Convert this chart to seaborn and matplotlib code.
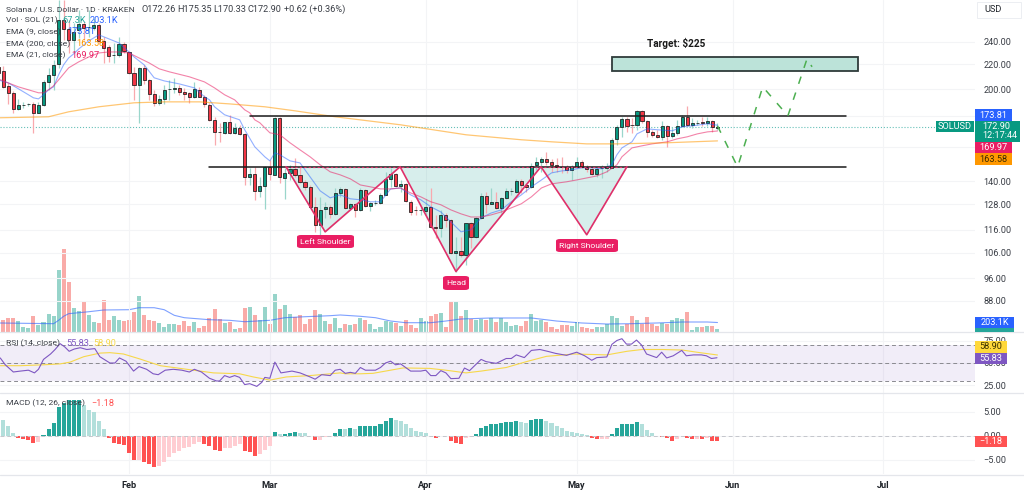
import numpy as np
import pandas as pd
import seaborn as sns
import matplotlib.pyplot as plt
from matplotlib.patches import FancyBboxPatch, Rectangle
from matplotlib.ticker import FixedLocator, NullLocator, FixedFormatter

# daily candles, day numbers are counted from Feb 1
days = list(range(-26, 118))
opens = [218, 214.6, 202.5, 197.1, 185.2, 187.8, 188.5, 188.8, 182.4, 188.1,
         205.6, 211.3, 220.5, 261.4, 252.5, 241.9, 251.5, 257.4, 254, 253.5,
         256.5, 241, 235.5, 227.9, 228.3, 238.2, 230.9, 213, 203.3, 217.1,
         207.2, 196.3, 189.6, 192.5, 199.8, 200.2, 200.9, 197.9, 197.1, 194.1,
         199.4, 194.1, 188.1, 177.5, 169.4, 168.8, 176.1, 168.8, 172.1, 168.1,
         142.3, 144, 134.8, 137.4, 147.9, 143.4, 178.9, 141.7, 144.5, 146.8,
         143.4, 139.6, 136.9, 126.7, 118.1, 125.7, 126.7, 123.3, 133.7, 135.8,
         126.2, 128.2, 125.2, 135.3, 127.2, 128.7, 128.7, 132.7, 141.2, 144,
         137.4, 138.5, 129.2, 125.2, 125, 124.7, 126.7, 117.2, 116.8, 122.8,
         120.4, 106.1, 106.9, 105.3, 119, 112.8, 121.4, 132.2, 128.2, 129.2,
         126.2, 131.2, 134.5, 134.2, 140.1, 137.9, 136.9, 149.1, 150.8, 152.6,
         150.8, 149.1, 147.9, 147.9, 146.2, 147.9, 150.8, 147.9, 146.8, 144,
         147.1, 147.4, 147.4, 164.9, 172.8, 178.2, 174.1, 174.1, 183.8, 176.8,
         169.4, 167.5, 166.2, 173.4, 166.8, 168.8, 173.4, 179.6, 174.1, 175.1,
         176.1, 175.5, 176.8, 172.26]
highs = [218.8, 218.8, 204.8, 198.6, 192.5, 190.3, 189.6, 190.3, 190.3, 207.2,
         217.1, 223.9, 282.4, 282.4, 261.4, 258.4, 271.7, 259.4, 271.7, 263.4,
         258.4, 244.8, 237.3, 239.1, 244.8, 240, 231.8, 218, 218, 219.7,
         207.6, 199.4, 195.6, 203.3, 207.2, 208.9, 203.3, 200.9, 197.9, 205.6,
         201.7, 195.6, 189.6, 179.6, 175.5, 176.1, 181, 175.5, 174.1, 168.8,
         147.4, 147.9, 142.3, 148.5, 152, 179.6, 179.6, 147.4, 149.1, 153.2,
         147.9, 140.6, 137.9, 131.7, 131.7, 129.2, 127.7, 136.3, 136.9, 136.3,
         128.7, 128.7, 136.3, 135.8, 129.2, 130.2, 133.7, 145.1, 147.4, 144.5,
         140.6, 139, 130.2, 127.2, 126.7, 130.7, 136.3, 122.8, 125.2, 123.7,
         120.9, 112.8, 112.8, 119, 119.5, 121.8, 133.7, 134.2, 136.3, 134.2,
         131.7, 136.3, 136.3, 141.2, 141.2, 138.5, 150.2, 153.8, 153.8, 156.8,
         152.6, 153.2, 153.8, 149.1, 149.1, 153.8, 152, 149.1, 148.5, 147.9,
         149.1, 150.2, 165.5, 174.1, 179.6, 179.6, 178.9, 184.5, 184.5, 177.5,
         170.8, 170.8, 176.8, 174.1, 172.8, 177.5, 181, 187.4, 178.9, 177.5,
         179.6, 179.6, 177.5, 175.35]
lows = [212.1, 200.9, 188.8, 182.4, 184.5, 186, 187.4, 168.8, 182, 187.4,
        199.4, 199.4, 217.1, 241.9, 230, 230, 243.9, 241.9, 244.8, 251.5,
        239.1, 221.3, 222.2, 221.3, 226.5, 230, 212.1, 191.8, 175.5, 204,
        191.8, 187.4, 188.1, 188.8, 191.8, 197.1, 195.6, 191.8, 189.6, 193.3,
        193.7, 186.7, 176.8, 161.1, 163, 168.1, 168.1, 168.1, 167.5, 137.9,
        137.9, 130.2, 131.7, 125.7, 140.6, 143.4, 139, 130.7, 140.6, 142.3,
        139, 135.3, 126.2, 115, 112.8, 121.4, 121.4, 122.8, 131.7, 125.7,
        125.2, 121.8, 124.7, 126.7, 124.7, 127.7, 128.2, 132.7, 136.9, 136.9,
        134.2, 129.2, 122.8, 122.8, 122.8, 122.8, 116.8, 112.4, 112.8, 117.2,
        105.7, 98.6, 104.5, 101.3, 108.1, 112.4, 120.9, 123.7, 128.2, 125.7,
        123.7, 130.7, 132.7, 133.7, 133.7, 134.2, 136.3, 146.2, 145.1, 149.1,
        145.1, 145.1, 144.5, 144.5, 140.6, 147.4, 147.4, 145.1, 143.4, 142.3,
        141.7, 145.1, 147.4, 161.1, 166.2, 169.4, 168.8, 170.8, 175.5, 166.2,
        166.2, 165.5, 164.3, 159.9, 165.5, 167.5, 172.8, 173.4, 172.1, 174.1,
        173.4, 173.4, 169.4, 170.33]
closes = [213, 201.7, 197.1, 185.2, 188.1, 188.1, 188.8, 182.4, 188.1, 205.6,
          211.3, 219.7, 261.4, 252.5, 241.9, 249.6, 257.4, 253.5, 254.5, 256.5,
          241, 234.5, 227.4, 228.3, 238.2, 231.8, 213, 203.3, 217.1, 207.2,
          196.3, 189.6, 192.5, 199.4, 200.2, 200.5, 197.9, 196.3, 194.1, 200.2,
          194.1, 188.8, 177.5, 169.4, 169.1, 176.1, 168.8, 172.1, 168.1, 142.3,
          144, 134.8, 137.4, 147.9, 144, 178.9, 142.3, 144.5, 146.8, 143.4,
          139.6, 136.9, 126.7, 118.1, 125.2, 126.7, 123.3, 133.7, 135.8, 126.2,
          128.2, 125.2, 135.3, 127.2, 128.7, 128.8, 132.7, 141.2, 144, 137.4,
          138.5, 129.7, 124.2, 125, 125.2, 126.7, 117.2, 116.8, 122.8, 120.4,
          106.1, 106.9, 105.3, 119, 112.8, 121.4, 132.2, 128.2, 129.2, 126.2,
          131.2, 134.8, 134.8, 140.1, 137.9, 136.9, 148.5, 150.8, 152.6, 150.8,
          149.1, 147.9, 147.6, 146.2, 147.9, 150.8, 147.9, 146.8, 144, 146.8,
          147.4, 147.6, 164.3, 172.8, 178.2, 173.4, 173.8, 183.8, 176.8, 169.4,
          167.5, 166.2, 173.4, 166.8, 168.8, 173.4, 179.6, 174.1, 175.5, 175.5,
          175.5, 176.8, 172.8, 172.9]

# volume in thousands
volume = [171, 250, 300, 293, 229, 107, 92, 336, 143, 220, 392, 349, 1320, 1770, 1076, 520,
          449, 648, 357, 220, 193, 691, 263, 336, 250, 229, 250, 428, 777, 357, 250, 235,
          199, 113, 165, 171, 156, 229, 122, 208, 92, 122, 306, 486, 285, 193, 214, 64,
          92, 507, 541, 370, 250, 529, 165, 820, 486, 578, 379, 321, 370, 165, 285, 464,
          379, 242, 165, 300, 92,
          178, 143, 178, 293, 250, 165, 71, 101, 242, 214, 193, 122, 263, 150, 92, 293,
          242, 336, 392, 400, 107, 657, 670, 342, 464, 272, 250, 278, 250, 306, 208, 306,
          214, 122, 156, 128, 229, 385, 235, 250, 208, 101, 71, 156, 156, 135, 220, 113,
          86, 58, 113, 107, 171, 336, 300, 135, 165, 349, 250, 178, 315, 171, 122, 199,
          178, 250, 306, 278, 422, 49, 107, 107, 122, 135, 67.3]
vol_ma_days = [-26, -15, -14, -13, -12, -8, -5, 0, 2, 5, 7, 9, 11, 16, 20, 23, 28, 31, 35, 40, 42,
               46, 49, 52, 55, 60, 63, 66, 72, 80, 85, 90, 95, 100, 105, 110, 115, 117]
vol_ma = [193, 178, 250, 336, 392, 434, 471, 477, 520, 520, 477, 357, 306, 263, 250, 220, 250, 306,
          327, 349, 364, 336, 306, 235, 199, 199, 235, 278, 300, 300, 235, 193, 171, 178, 193, 214, 214, 203.1]

ema9_days = [-26, -24, -22, -20, -19, -18, -17, -16, -15, -14, -13, -12, -11, -10, -8, -6, -5, -4, -2, 0, 1, 3, 5, 7,
             10, 13, 15, 16, 17, 19, 22, 23, 25, 27, 28, 29, 30, 32, 34, 36, 38, 40, 42, 44, 46, 48, 50, 52, 54, 56,
             58, 60, 62, 64, 66, 68, 70, 72, 74, 76, 78, 80, 82, 84, 86, 88, 90, 92, 94, 96, 97, 98, 100, 101, 103,
             105, 108, 110, 112, 115, 117]
ema9 = [207.2, 204.8, 200.2, 195.6, 193.3, 192.5, 195.6, 199.4, 201.7, 211.3, 219.7, 225.6, 229.2, 233.6, 241, 246.7,
        244.8, 242.9, 239.1, 230.9, 226.5, 219.7, 208.9, 206.4, 204, 200.9, 194.1, 191.8, 186.7, 181, 177.5, 170.8,
        159.9, 153.8, 151.4, 156.2, 155, 151.4, 150.2, 142.3, 134.8, 131.2, 132.7, 130.7, 130.2, 129.2, 129.2, 135.8,
        136.3, 132.7, 130.2, 126.7, 124.2, 119.5, 115, 115.9, 121.4, 123.7, 125.2, 129.2, 132.7, 136.9, 140.6, 144.5,
        145.6, 146.2, 147.4, 147.4, 146.8, 149.1, 155, 159.2, 163, 168.1, 171.4, 170.8, 170.1, 172.8, 173.4, 174.8, 173.81]
ema21_days = [-26, -24, -22, -20, -18, -17, -16, -15, -14, -12, -10, -8, -6, -4, -2, 0, 2, 4, 6, 8, 12, 15, 17, 19, 21,
              23, 24, 25, 26, 28, 30, 32, 34, 36, 38, 40, 42, 44, 46, 48, 50, 52, 54, 56, 58, 60, 62, 64, 66, 68, 70,
              72, 74, 76, 78, 80, 82, 84, 87, 89, 91, 93, 95, 97, 98, 100, 102, 104, 107, 109, 111, 113, 115, 117]
ema21 = [208, 204.8, 201.7, 199.4, 197.1, 197.1, 199.4, 202.5, 207.2, 217.1, 222.2, 226.5, 230, 230.9, 230.9, 230,
         225.6, 221.3, 216.3, 213.8, 209.7, 205.6, 200.9, 195.6, 191.8, 184.5, 182.4, 177.5, 175.5, 168.8, 167.5,
         162.4, 158, 153.8, 149.1, 145.1, 143.4, 141.2, 137.9, 136.9, 135.8, 135.8, 136.3, 133.7, 131.7, 129.2, 127.7,
         125.2, 123.3, 121.8, 121.8, 122.8, 124.2, 126.2, 128.2, 131.7, 136.3, 138.5, 139.6, 140.6, 141.7, 142.8,
         145.1, 149.1, 153.8, 159.2, 160.5, 161.7, 163, 164.9, 166.2, 168.1, 169.4, 169.97]
ema200_days = [-26, -16, -12, -6, 1, 7, 14, 20, 27, 33, 41, 54, 67, 78, 84, 91, 97, 107, 117]
ema200 = [178.9, 179.6, 183.1, 186.7, 189.6, 190.3, 190.3, 188.8, 186.7, 183.8, 179.6, 174.1, 167.5, 164.3, 163, 161.7,
          161.7, 162.4, 163.58]

rsi_days = [-25.6, -24.6, -23, -21.6, -20, -18.8, -18, -17, -15.6, -14.7, -13.7, -12.8, -11.9, -10.9, -9.7, -8.4, -6.8,
            -5.8, -3.8, -2.8, -1.9, -0.6, 0.9, 2, 3.5, 4.8, 5.8, 7.2, 8.8, 10.5, 12, 13, 14.4, 16, 17.4, 18, 19, 20, 21,
            22, 23, 24, 25.4, 26.4, 27, 28, 29, 30.2, 32.4, 34, 36, 37, 38.3, 40, 41, 42, 43, 44, 45, 46, 47, 49, 50,
            51, 52, 53, 54, 55, 56, 58, 59, 60, 61, 62, 63, 64, 65.6, 66.7, 67.7, 70, 71, 73, 75, 76, 77, 78.6, 80,
            81.7, 83.5, 84.8, 87, 89, 90.6, 92, 93, 95, 96, 97, 98, 98.9, 99.9, 100.9, 101.9, 102.9, 104.9, 105.9,
            106.9, 108.2, 109.9, 110.8, 112.2, 113.8, 114.8, 115.8, 116.9]
rsi = [55.6, 48, 40, 41, 42, 39, 43, 54, 60, 65, 71.5, 68, 63, 65.5, 67, 65, 66, 57, 50, 50, 55.6, 52, 41, 46, 43, 38,
       37, 42, 43, 42, 40, 43, 40, 33, 30, 30, 36, 34, 36, 34, 26, 27, 24, 28.5, 34, 33, 51, 39, 41, 39, 34.5, 32, 37,
       36, 42, 43, 38.5, 39.6, 38.5, 45, 42, 42, 45, 50, 52, 48, 49, 45, 41, 41, 42, 36, 36, 41.5, 39, 32.6, 33, 44.4,
       41.5, 54, 51.5, 49.6, 55, 55, 59, 56, 64, 65, 62.6, 60.7, 58.5, 62, 58, 53, 56, 56.7, 70.7, 75, 77, 71, 71, 75.5,
       70, 60, 56, 62, 55.6, 58, 64, 58, 59, 59, 58, 55, 55.83]
rsi_ma_days = [-25.6, -21.6, -17, -13.7, -11.7, -9, -5.8, -3.8, -1.1, 2.2, 6.2, 11.5, 16.8, 22, 24.7, 28, 31.3, 36, 42,
               43, 46, 48.5, 54.5, 59.8, 63, 67, 70, 75, 79, 83, 88.5, 95, 99, 102, 106, 110, 113.5, 117]
rsi_ma = [47, 47, 48, 49, 51, 57, 61, 61.5, 60, 54.4, 47, 43, 39, 38, 34.5, 31, 34.5, 36, 39, 38, 38, 38.5, 44.5, 44, 42,
          39, 41, 45, 51.5, 57.4, 60, 59, 63, 65, 65, 64.4, 61.5, 58.9]

macd_hist = [4.3, 3.3, 2, 0.5, -0.5, -0.8, -1, -1.5, -1.25, 0.2, 1.4, 2.7, 6, 6.7, 7.4, 7.4, 7.5, 6.4, 5.3, 4.9, 3.1, 1.3,
             -0.4, -1.6, -1.7, -2, -3.7, -5, -5, -5.4, -5.9, -6.5, -6.3, -5.4, -4.5, -3.7, -3.1, -2.6, -2.4, -1.8, -1.4,
             -1.7, -2.2, -3, -3.1, -2.6, -2.6, -2.1, -1.8, -3.1, -3.5, -4.2, -3.9, -3, -2.1, 0.7, 0.3, 0.35, 0.6, 0.7, 0.6,
             0.5, -0.15, -1, -0.9, -0.35, -0.2, 0.6, 1.4,
             1.3, 1.5, 1.3, 2.1, 2.1, 2.1, 2.1, 2.4, 3, 3.6, 3.3, 3.1, 2.5, 1.6, 1, 0.7, 0.55, 0.02, -0.4, -0.15, -0.1,
             -1.2, -1.5, -1.7, -0.6, -0.3, 0.4, 1.6, 2.1, 2.4, 2.4, 2.6, 2.8, 2.8, 3.1, 2.8, 2.6, 3.2, 3.4, 3.5, 3.05, 2.6,
             2.1, 1.5, 1, 0.7, 0.6, 0.4, 0.07, -0.55, -0.75, -0.75, -0.75, 0.35, 1.6, 2.4, 2.4, 2.4, 2.8, 2.4, 1.1, 0.55,
             -0.15, -0.2, -0.55, -1.1, -0.8, -0.1, -0.6, -0.7, -0.7, -0.75, -0.6, -1.1, -1.18]

# hand drawn annotations
resistance = 180
neckline = 148
pattern_days = [31.2, 39, 53.9, 65, 81.9, 91, 99]
pattern_prices = [148, 115, 148, 98.6, 148, 113.7, 148]
path_days = [117, 121, 126, 131, 134.8, 135.8]
path_prices = [173.4, 147.9, 201.7, 180.3, 224.8, 218]

price_ticks = [88, 96, 106, 116, 128, 140, 160, 180, 200, 220, 240]
# 160 and 180 sit under the price flags, so only their grid lines show
price_labels = ['' if v in (160, 180) else f'{v:.2f}' for v in price_ticks]
month_days = [0, 28, 59, 89, 120, 150]
month_names = ['Feb', 'Mar', 'Apr', 'May', 'Jun', 'Jul']

GREEN, RED = '#089981', '#F23645'
GRID = '#F3F4F6'
INK = '#3A3E46'
NAME_SIZE = 6.1

sns.set_theme(style='white')
plt.rcParams['font.family'] = ['Roboto', 'DejaVu Sans']
plt.rcParams['font.size'] = 6.6

W, H = 1024, 494
fig = plt.figure(figsize=(W / 100, H / 100), dpi=100, facecolor='white')


def pane(top, bottom):
    return fig.add_axes([0, 1 - bottom / H, 975 / W, (bottom - top) / H])


ax_vol = pane(0, 332)
ax = pane(0, 332)
ax_rsi = pane(332.5, 392.5)
ax_macd = pane(392.5, 474)
ax_vol.set_zorder(0)
ax.set_zorder(1)
ax.patch.set_visible(False)

df = pd.DataFrame({'day': days, 'open': opens, 'high': highs, 'low': lows, 'close': closes,
                   'volume': volume, 'macd': macd_hist})
up = df['close'] >= df['open']

# volume
df['vol_kind'] = np.where(up, 'up', 'down')
sns.barplot(data=df, x='day', y='volume', hue='vol_kind', native_scale=True, dodge=False, width=0.8, saturation=1,
            linewidth=0, edgecolor='none', palette={'up': '#97D4CA', 'down': '#F9ABA8'}, legend=False, ax=ax_vol)
sns.lineplot(x=vol_ma_days, y=vol_ma, color='#2962FF', alpha=0.6, lw=0.8, ax=ax_vol)
ax_vol.set_ylim(0, 7105)
ax_vol.axis('off')

# price pane
ax.set_yscale('log')
ax.fill_between(pattern_days, pattern_prices, neckline, color='#26A69A', alpha=0.18, lw=0, zorder=1)
ax.axhline(172.9, color='#26A69A', ls=':', lw=0.8, alpha=0.7, zorder=1.5)
ax.add_patch(Rectangle((96, 214.6), 49, 11.9, fc='#BCE3D9', ec='#2F3B3A', lw=1.3, zorder=2))

ax.vlines(df['day'], df['low'], df['high'], colors=np.where(up, '#9AD6CB', '#F9A9AE'), lw=0.9, zorder=2.5)
ax.bar(df['day'], (df['close'] - df['open']).abs(), bottom=df[['open', 'close']].min(axis=1), width=0.62,
       color=np.where(up, GREEN, RED), edgecolor='#1A1A1A', lw=0.55, zorder=3)

sns.lineplot(x=ema9_days, y=ema9, color='#2962FF', alpha=0.5, lw=0.8, ax=ax, zorder=4)
sns.lineplot(x=ema21_days, y=ema21, color='#E91E63', alpha=0.55, lw=0.8, ax=ax, zorder=4)
sns.lineplot(x=ema200_days, y=ema200, color='#FF9800', alpha=0.55, lw=0.9, ax=ax, zorder=4)

ax.plot([24, 142.5], [resistance, resistance], color='#1A1A1A', lw=1.1, zorder=5)
ax.plot([16, 142.5], [neckline, neckline], color='#1A1A1A', lw=1.1, zorder=5)
ax.plot(pattern_days, pattern_prices, color='#E0306A', lw=1.2, zorder=5.5)
ax.plot([31.2, 99], [neckline, neckline], color='#E0306A', lw=0.8, ls=(0, (2, 2)), zorder=5.5)
ax.plot(path_days, path_prices, color='#4CAF50', lw=1.1, ls=(0, (5, 6)), zorder=5.5)

ax.set_ylim(78, 282.4)
ax.yaxis.set_major_locator(FixedLocator(price_ticks))
ax.yaxis.set_minor_locator(NullLocator())
ax.yaxis.set_major_formatter(FixedFormatter(price_labels))

# RSI
ax_rsi.axhspan(30, 70, color='#7E57C2', alpha=0.1, lw=0)
for level in [70, 50, 30]:
    ax_rsi.axhline(level, color='#8A8A90', lw=0.7, ls=(0, (4, 3)))
sns.lineplot(x=rsi_ma_days, y=rsi_ma, color='#F7D84A', lw=0.8, ax=ax_rsi)
sns.lineplot(x=rsi_days, y=rsi, color='#7E57C2', lw=0.8, ax=ax_rsi)
ax_rsi.set_ylim(17.2, 83.9)
ax_rsi.set_yticks([25, 50, 75], ['25.00', '50.00', '75.00'])

# MACD, dark bars when the histogram is growing
prev = df['macd'].shift(1).fillna(df['macd'])
df['macd_kind'] = np.select([(df['macd'] >= 0) & (df['macd'] >= prev), df['macd'] >= 0, df['macd'] < prev],
                            ['pos_up', 'pos_down', 'neg_down'], 'neg_up')
ax_macd.axhline(0, color='#C4C6CC', lw=0.7, ls=(0, (4, 3)))
sns.barplot(data=df, x='day', y='macd', hue='macd_kind', native_scale=True, dodge=False, width=0.8, saturation=1,
            linewidth=0, edgecolor='none',
            palette={'pos_up': '#26A69A', 'pos_down': '#B2DFDB', 'neg_down': '#FF5252', 'neg_up': '#FFCDD2'},
            legend=False, ax=ax_macd)
ax_macd.set_ylim(-7.98, 8.96)
ax_macd.set_yticks([-5, 0, 5], ['−5.00', '0.00', '5.00'])

for a in [ax, ax_rsi, ax_macd]:
    a.set_xlabel('')
    a.set_ylabel('')
    a.set_xlim(-25.65, 168.2)
    a.set_xticks(month_days)
    a.yaxis.tick_right()
    a.grid(True, color=GRID, lw=0.8)
    a.set_axisbelow(True)
    a.tick_params(axis='y', length=0, pad=6, labelsize=6.6, labelcolor=INK)
    a.tick_params(axis='x', length=0, labelbottom=False)
    sns.despine(ax=a, left=True, right=True, top=True, bottom=True)
ax_vol.set_xlim(-25.65, 168.2)
ax_macd.set_xticks(month_days, month_names)
ax_macd.tick_params(axis='x', length=0, labelbottom=True, pad=5, labelsize=6.6, labelcolor='#1F2329')
for t in ax_macd.get_xticklabels():
    t.set_fontweight('semibold')


# everything below is placed in figure pixels on top of the panes
def label(x, y, s, color=INK, **kw):
    kw.setdefault('va', 'center')
    kw.setdefault('fontsize', 6.6)
    fig.text(x / W, 1 - y / H, s, color=color, zorder=20, **kw)


def flag(x0, x1, y0, y1, color, s, text_color='white'):
    fig.add_artist(Rectangle((x0 / W, 1 - y1 / H), (x1 - x0) / W, (y1 - y0) / H, fc=color, lw=0,
                             transform=fig.transFigure, zorder=15))
    if s:
        label(x0 + (x1 - x0) / 2, (y0 + y1) / 2, s, color=text_color, ha='center')


def pill(x0, x1, y0, y1, s):
    fig.add_artist(FancyBboxPatch((x0 / W, 1 - y1 / H), (x1 - x0) / W, (y1 - y0) / H,
                                  boxstyle='round,pad=0,rounding_size=0.004', fc='#E91E63', lw=0,
                                  transform=fig.transFigure, zorder=15))
    label((x0 + x1) / 2, (y0 + y1) / 2, s, color='white', ha='center', fontsize=NAME_SIZE)


label(6, 9, 'Solana / U.S. Dollar · 1D · KRAKEN', fontsize=NAME_SIZE)
label(141, 9, 'O172.26')
label(177, 9, 'H175.35')
label(213, 9, 'L170.33')
label(248, 9, 'C172.90')
label(284, 9, '+0.62 (+0.36%)')
label(6, 20.5, 'Vol · SOL (21)', fontsize=NAME_SIZE)
label(62, 20.5, '67.3K', '#26A69A')
label(90, 20.5, '203.1K', '#2962FF')
label(6, 32, 'EMA (9, close)', fontsize=NAME_SIZE)
label(67, 32, '173.81', '#2962FF')
label(6, 44, 'EMA (200, close)', fontsize=NAME_SIZE)
label(76, 44, '163.58', '#FF9800')
label(6, 55.5, 'EMA (21, close)', fontsize=NAME_SIZE)
label(71, 55.5, '169.97', '#E91E63')
label(6, 343.5, 'RSI (14, close)', fontsize=NAME_SIZE)
label(66, 343.5, '55.83', '#7E57C2')
label(93, 343.5, '58.90', '#F7D84A')
label(6, 403.5, 'MACD (12, 26, close)', fontsize=NAME_SIZE)
label(91, 403.5, '−1.18', '#FF5252')

label(676, 43, 'Target: $225', '#1A1A1A', ha='center', fontweight='bold', fontsize=7.2)
pill(297, 354, 235, 248, 'Left Shoulder')
pill(443, 469, 276, 290, 'Head')
pill(556, 618, 239, 252, 'Right Shoulder')

fig.add_artist(Rectangle((977 / W, 1 - 18 / H), 44 / W, 16 / H, fc='white', ec='#ECEEF2', lw=0.7,
                         transform=fig.transFigure, zorder=15))
label(984, 10, 'USD', '#1F2329')

flag(936, 974, 121, 132.5, GREEN, 'SOLUSD')
flag(975, 1012, 109, 121, '#2962FF', '173.81')
fig.add_artist(Rectangle((975 / W, 1 - 142 / H), 45 / W, 21 / H, fc=GREEN, lw=0, transform=fig.transFigure, zorder=15))
label(982, 126.5, '172.90', 'white')
label(982, 136, '12:17:44', 'white')
flag(975, 1012, 142, 153, '#E91E63', '169.97')
flag(975, 1012, 153, 165, '#FF9800', '163.58', '#3A2A00')
flag(975, 1014, 328, 332, '#26A69A', '')
flag(975, 1014, 317, 328, '#2962FF', '203.1K')
flag(975, 1007, 341, 352.5, '#FFD83B', '58.90', '#3A3000')
flag(975, 1007, 352.5, 364, '#7E57C2', '55.83')
flag(975, 1007, 436, 447, '#FF5252', '−1.18')

# pane separators
for y in [332, 392.5, 474.5]:
    fig.add_artist(plt.Line2D([0, 1], [1 - y / H, 1 - y / H], color='#E4E6EB', lw=0.9, zorder=12))

fig.savefig('out.png', dpi=100)
